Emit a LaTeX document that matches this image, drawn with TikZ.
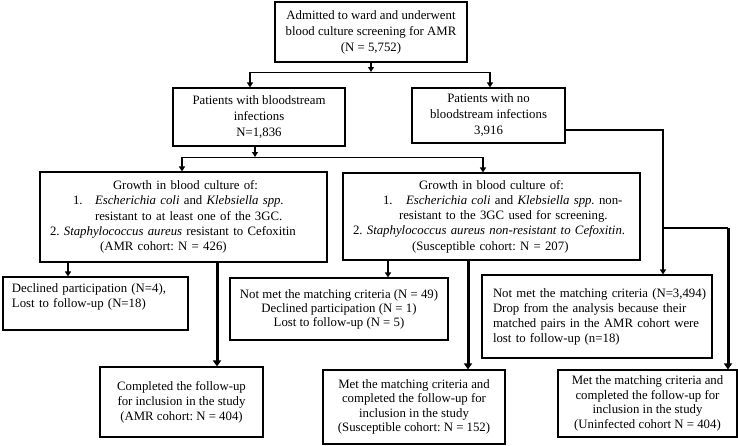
\documentclass[tikz,border=0pt]{standalone}
\usepackage{fontspec}
\setmainfont{Liberation Serif}
\usetikzlibrary{arrows.meta}
\newcommand{\fsA}{\frenchspacing\fontsize{12.8pt}{15pt}\selectfont}
\newcommand{\fsB}{\frenchspacing\fontsize{12.8pt}{16pt}\selectfont}
\newcommand{\fsC}{\frenchspacing\fontsize{12.8pt}{15.3pt}\selectfont}
\begin{document}
\frenchspacing
\begin{tikzpicture}[x=1pt,y=-1pt,
  box/.style={draw, line width=1.1pt, inner sep=0pt, align=center, font=\fsA},
  lbox/.style={draw, line width=1.1pt, inner ysep=0pt, align=left, font=\fsA},
  tip/.style={-{Triangle[length=5pt,width=6pt]}},
  stub/.style={line width=2.2pt, tip},
  thinline/.style={line width=1pt},
  thickarrow/.style={line width=3pt, -{Triangle[length=6pt,width=8pt]}}]
\useasboundingbox (0,0) rectangle (738,445);

% boxes
\node[box, minimum width=192pt, minimum height=60pt, font=\fsB] (top) at (371,32)
  {Admitted to ward and underwent\\ blood culture screening for AMR\\ (N = 5,752)};
\node[box, minimum width=172pt, minimum height=58pt, font=\fsB] (bsi) at (259,117)
  {Patients with bloodstream\\ infections\\ N=1,836};
\node[box, minimum width=153pt, minimum height=55pt, font=\fsB] (nobsi) at (488.5,115.5)
  {Patients with no\\ bloodstream infections\\ 3,916};
\node[lbox, inner xsep=0pt, text width=287pt, minimum height=90pt, font=\fsC] (amr) at (183.5,217)
  {\hspace*{73pt}Growth in blood culture of:\\
   \hspace*{33pt}\makebox[22pt][l]{1.}\textit{Escherichia coli} and \textit{Klebsiella spp.}\\
   \hspace*{55pt}resistant to at least one of the 3GC.\\
   \hspace*{10pt}2. \textit{Staphylococcus aureus} resistant to Cefoxitin\\
   \hspace*{60pt}(AMR cohort: N = 426)};
\node[lbox, inner xsep=0pt, text width=297pt, minimum height=87pt, font=\fsC] (sus) at (491.5,216.5)
  {\hspace*{76pt}Growth in blood culture of:\\
   \hspace*{40pt}\makebox[23pt][l]{1.}\textit{Escherichia coli} and \textit{Klebsiella spp.} non-\\
   \hspace*{56pt}resistant to the 3GC used for screening.\\
   \hspace*{10pt}2. \textit{Staphylococcus aureus non-resistant to Cefoxitin}.\\
   \hspace*{69pt}(Susceptible cohort: N = 207)};
\node[lbox, inner xsep=0pt, text width=185pt, minimum height=53pt] (dec) at (95.5,303.5)
  {\hspace*{9pt}Declined participation (N=4),\\ \hspace*{9pt}Lost to follow-up (N=18)\\ \mbox{}};
\node[box, minimum width=218pt, minimum height=62pt, font=\frenchspacing\fontsize{12.8pt}{14pt}\selectfont] (nm49) at (339,309)
  {Not met the matching criteria (N = 49)\\ Declined participation (N = 1)\\ Lost to follow-up (N = 5)};
\node[lbox, inner xsep=0pt, text width=230pt, minimum height=83pt] (nm3494) at (597,316.5)
  {\hspace*{11pt}Not met the matching criteria (N=3,494)\\ \hspace*{11pt}Drop from the analysis because their\\ \hspace*{11pt}matched pairs in the AMR cohort were\\ \hspace*{11pt}lost to follow-up (n=18)};
\node[box, minimum width=163pt, minimum height=70pt] (comp) at (181.5,402)
  {Completed the follow-up\\ for inclusion in the study\\ (AMR cohort: N = 404)};
\node[box, minimum width=182pt, minimum height=74pt, font=\frenchspacing\fontsize{12.8pt}{14.5pt}\selectfont] (metsus) at (414,407)
  {Met the matching criteria and\\ completed the follow-up for\\ inclusion in the study\\ (Susceptible cohort: N = 152)};
\node[box, minimum width=179pt, minimum height=67pt, font=\frenchspacing\fontsize{12.8pt}{14.4pt}\selectfont] (unin) at (647.5,403.5)
  {Met the matching criteria and\\ completed the follow-up for\\ inclusion in the study\\ (Uninfected cohort N = 404)};

% junction coordinates
\coordinate (j1) at (371,72);
\coordinate (j1L) at (250,72);
\coordinate (j1R) at (490,72);
\coordinate (j2) at (255,157);
\coordinate (j2L) at (182,157);
\coordinate (j2R) at (483,157);
\coordinate (c68) at (68,0);
\coordinate (c217) at (217,0);
\coordinate (c388) at (388,0);
\coordinate (c468) at (468,0);
\coordinate (k1) at (663,130);
\coordinate (k2) at (663,228);
\coordinate (k3) at (728,228);

% connectors
\draw[stub] (top.south) -- (j1);
\draw[thinline] (j1L) -- (j1R);
\draw[stub] (j1L) -- (j1L |- bsi.north);
\draw[stub] (j1R) -- (j1R |- nobsi.north);

\draw[stub] (j2 |- bsi.south) -- (j2);
\draw[thinline] (j2L) -- (j2R);
\draw[stub] (j2L) -- (j2L |- amr.north);
\draw[stub] (j2R) -- (j2R |- sus.north);

\draw[stub] (amr.south -| c68) -- (dec.north -| c68);
\draw[thickarrow] (amr.south -| c217) -- (comp.north -| c217);
\draw[stub] (sus.south -| c388) -- (nm49.north -| c388);
\draw[thickarrow] (sus.south -| c468) -- (metsus.north -| c468);

\draw[line width=1.4pt, tip] (nobsi.east |- k1) -- (k1) -- (k1 |- nm3494.north);
\draw[line width=2pt] (k2) -- (k3);
\draw[thickarrow] (k3) -- (k3 |- unin.north);
\end{tikzpicture}
\end{document}
